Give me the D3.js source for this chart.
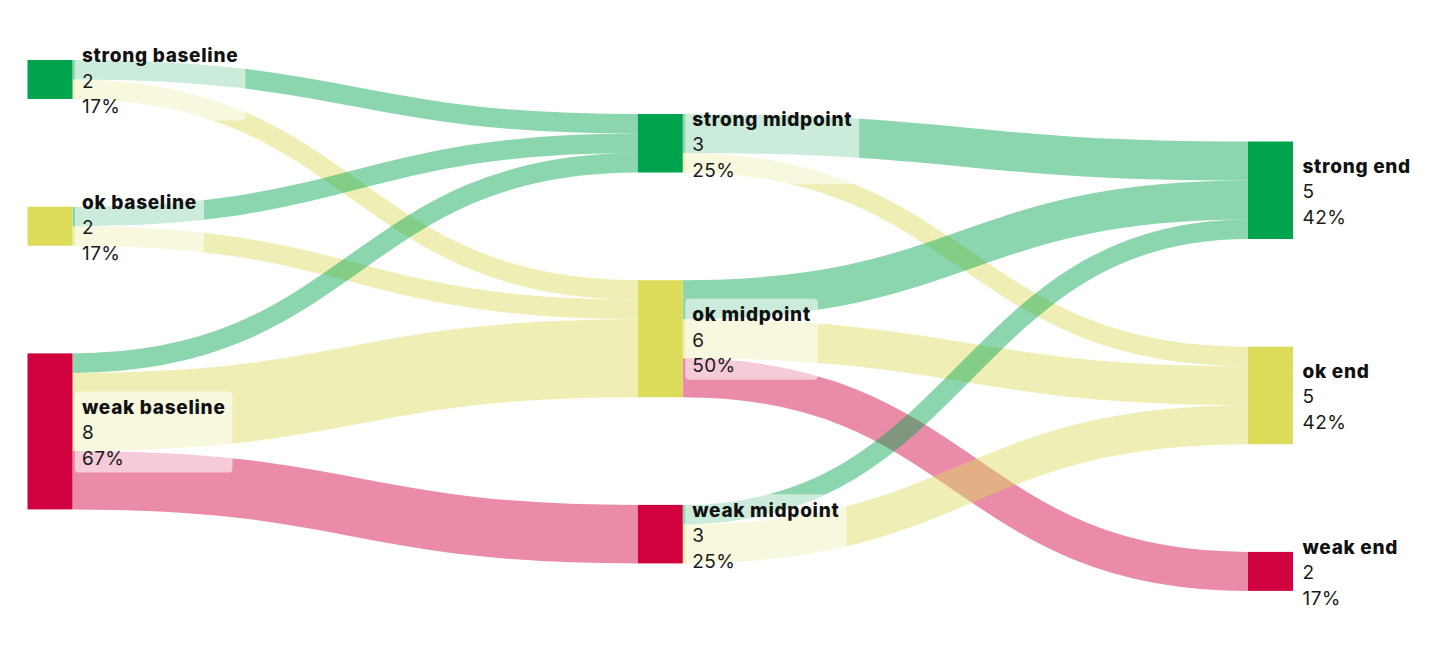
<!DOCTYPE html>
<html>
<head>
<meta charset="utf-8">
<script src="https://cdn.jsdelivr.net/npm/d3@7"></script>
<style>
  html, body { margin: 0; padding: 0; background: #fff; }
  svg { display: block; font-family: Inter, "Noto Sans", sans-serif; }
</style>
</head>
<body>
<svg id="chart" width="1456" height="648"></svg>
<script>
// ---- data ----
const nodeNames  = ["strong baseline", "ok baseline", "weak baseline",
                    "strong midpoint", "ok midpoint", "weak midpoint",
                    "strong end", "ok end", "weak end"];
const nodeStages = [0, 0, 0, 1, 1, 1, 2, 2, 2];
const nodeLevels = ["strong", "ok", "weak", "strong", "ok", "weak", "strong", "ok", "weak"];

const linkSources = [0, 0, 1, 1, 2, 2, 2, 3, 3, 4, 4, 4, 5, 5];
const linkTargets = [3, 4, 3, 4, 3, 4, 5, 6, 7, 6, 7, 8, 6, 7];
const linkValues  = [1, 1, 1, 1, 1, 4, 3, 2, 1, 2, 2, 2, 1, 2];

const levels      = ["strong", "ok", "weak"];
const levelColors = ["#00a34e", "#dcdc5a", "#d1003f"];

// ---- layout ----
const svg = d3.select("#chart");
const nodeWidth = 45;
const nodePadding = 107.7;
const stageX = d3.scaleLinear().domain([0, 2]).range([27.5, 1248]);
const stageTop = [60, 114, 141.5];
const color = d3.scaleOrdinal().domain(levels).range(levelColors);

const nodes = nodeNames.map((name, i) => ({
  index: i, name, stage: nodeStages[i], level: nodeLevels[i],
  sourceLinks: [], targetLinks: []
}));
const links = linkValues.map((v, i) => ({
  source: nodes[linkSources[i]], target: nodes[linkTargets[i]], value: v, index: i
}));
links.forEach(l => { l.source.sourceLinks.push(l); l.target.targetLinks.push(l); });
nodes.forEach(n => {
  n.value = Math.max(d3.sum(n.sourceLinks, l => l.value), d3.sum(n.targetLinks, l => l.value));
});
const total = d3.sum(nodes.filter(n => n.stage === 0), n => n.value);
const y = d3.scaleLinear().domain([0, total]).range([0, 234]);

d3.range(3).forEach(s => {
  let cy = stageTop[s];
  nodes.filter(n => n.stage === s).forEach(n => {
    n.x0 = stageX(s); n.x1 = n.x0 + nodeWidth;
    n.y0 = cy; n.y1 = cy + y(n.value);
    cy = n.y1 + nodePadding;
  });
});
nodes.forEach(n => {
  n.sourceLinks.sort((a, b) => a.target.y0 - b.target.y0);
  n.targetLinks.sort((a, b) => a.source.y0 - b.source.y0);
  let sy = n.y0;
  n.sourceLinks.forEach(l => { l.width = y(l.value); l.y0 = sy + l.width / 2; sy += l.width; });
  let ty = n.y0;
  n.targetLinks.forEach(l => { l.y1 = ty + y(l.value) / 2; ty += y(l.value); });
});

const linkPath = d3.linkHorizontal()
  .source(d => [d.source.x1, d.y0])
  .target(d => [d.target.x0, d.y1]);

// draw order: weak, ok, strong targets (strong on top)
const drawOrder = links.slice().sort((a, b) =>
  levels.indexOf(b.target.level) - levels.indexOf(a.target.level) || a.index - b.index);

svg.append("g")
  .attr("fill", "none")
  .selectAll("path")
  .data(drawOrder)
  .join("path")
  .attr("d", linkPath)
  .attr("stroke", d => color(d.target.level))
  .attr("stroke-opacity", 0.45)
  .attr("stroke-width", d => d.width);

svg.append("g")
  .selectAll("rect")
  .data(nodes)
  .join("rect")
  .attr("x", d => d.x0)
  .attr("y", d => d.y0)
  .attr("width", d => d.x1 - d.x0)
  .attr("height", d => d.y1 - d.y0)
  .attr("fill", d => color(d.level));

const fmtPct = d3.format(".0%");
const labels = svg.append("g")
  .selectAll("g")
  .data(nodes)
  .join("g")
  .attr("transform", d => `translate(${d.x1 + 9.5},${(d.y0 + d.y1) / 2})`);

const boxes = labels.append("rect")
  .attr("fill", "#fff")
  .attr("fill-opacity", 0.55)
  .attr("rx", 4);

const texts = labels.append("text")
  .attr("font-size", 19)
  .attr("fill", "#1a1a1a");
texts.append("tspan").attr("x", 0).attr("y", -17.5)
  .attr("font-weight", 800).attr("letter-spacing", 0.7)
  .attr("fill", "#111").text(d => d.name);
texts.append("tspan").attr("x", 0).attr("y", 8)
  .attr("letter-spacing", 0.4)
  .text(d => d.value);
texts.append("tspan").attr("x", 0).attr("y", 33.5)
  .attr("letter-spacing", 0.4)
  .text(d => fmtPct(d.value / total));

texts.each(function(d) { d.tw = this.getBBox().width; });
boxes
  .attr("x", -7)
  .attr("y", -40)
  .attr("width", d => d.tw + 14)
  .attr("height", 81);
</script>
</body>
</html>
